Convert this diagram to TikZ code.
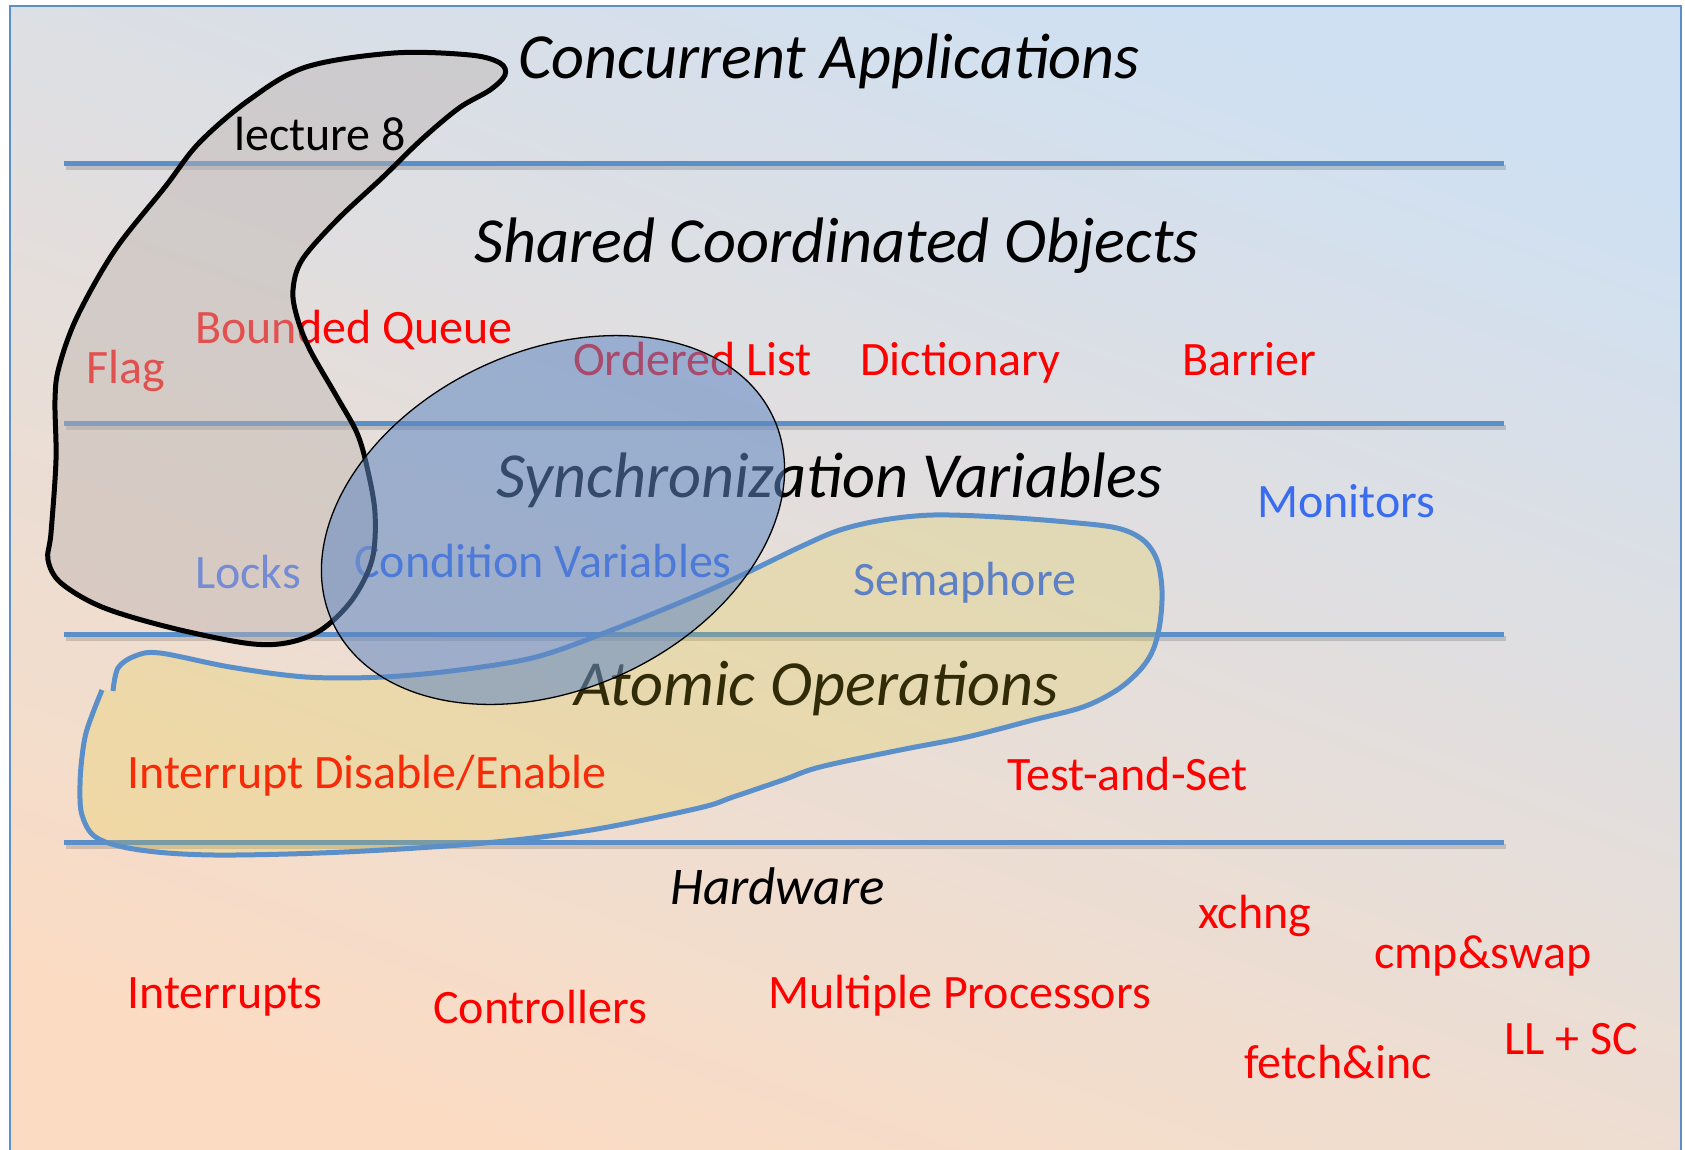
\documentclass[tikz,border=0pt]{standalone}
\usepackage{fontspec}
\setmainfont{Carlito}
\definecolor{linecol}{RGB}{91,143,201}
\definecolor{redtxt}{RGB}{255,0,0}
\definecolor{bluetxt}{RGB}{58,108,240}
\definecolor{bgtop}{RGB}{207,224,242}
\definecolor{bgbot}{RGB}{251,220,195}
\definecolor{grayfill}{RGB}{190,180,176}
\definecolor{ellfill}{RGB}{95,135,195}
\definecolor{yelfill}{RGB}{225,200,40}
\begin{document}
\begin{tikzpicture}[x=1pt,y=-1pt,
  hdr/.style={anchor=base west, inner sep=0pt, font=\fontsize{64.3}{70}\selectfont\itshape},
  lbl/.style={anchor=base west, inner sep=0pt, font=\fontsize{48}{56}\selectfont},
  rlbl/.style={lbl, text=redtxt},
  blbl/.style={lbl, text=bluetxt},
  layerline/.style={line width=5pt, draw=linecol},
  layershadow/.style={line width=5pt, draw=black, draw opacity=0.15},
]
\useasboundingbox (0,0) rectangle (1685,1149);
\fill[white] (0,0) rectangle (1685,1149);
\shade[top color=bgtop, bottom color=bgbot, shading angle=-20] (10,6) rectangle (1681,1160);
\draw[linecol, line width=1.5pt] (10,1160) -- (10,6) -- (1681,6) -- (1681,1160);

% layer lines
\foreach \yy in {163,423,634,842}{
  \coordinate (la\yy) at (64,\yy);
  \coordinate (lb\yy) at (1504,\yy);
  \draw[layershadow] ([shift={(2,4)}]la\yy) -- ([shift={(2,4)}]lb\yy);
  \draw[layerline] (la\yy) -- (lb\yy);
}

% headers
\node[hdr] (concur) at (518,78) {Concurrent Applications};
\node[hdr] (shared) at (474,262) {Shared Coordinated Objects};
\node[hdr] (sync) at (496,497) {Synchronization Variables};
\node[hdr] (atomic) at (574,705) {Atomic Operations};
\node[hdr, font=\fontsize{53}{60}\selectfont\itshape] (hw) at (670,904) {Hardware};

% labels
\node[rlbl] (flag) at (86,383) {Flag};
\node[rlbl] (bq) at (195,343) {Bounded Queue};
\node[rlbl] (ol) at (573,375) {Ordered List};
\node[rlbl] (dict) at (860,375) {Dictionary};
\node[rlbl] (barrier) at (1182,375) {Barrier};
\node[blbl] (mon) at (1257,517) {Monitors};
\node[blbl] (locks) at (195,588) {Locks};
\node[blbl] (cv) at (354,577) {Condition Variables};
\node[blbl] (sem) at (853,595) {Semaphore};
\node[rlbl] (ide) at (127,788) {Interrupt Disable/Enable};
\node[rlbl] (tas) at (1007,790) {Test-and-Set};
\node[rlbl] (intr) at (127,1008) {Interrupts};
\node[rlbl] (ctrl) at (433,1023) {Controllers};
\node[rlbl] (mp) at (768,1008) {Multiple Processors};
\node[rlbl] (xch) at (1198,928) {xchng};
\node[rlbl] (cas) at (1374,968) {cmp\&swap};
\node[rlbl] (fai) at (1244,1078) {fetch\&inc};
\node[rlbl] (llsc) at (1504,1054) {LL + SC};

% gray blob (lecture 8)
\draw[line width=5pt, fill=grayfill, fill opacity=0.45]
  plot[smooth cycle, tension=0.55] coordinates {
  (394,53) (470,55) (500,63) (505,75) (490,90) (459,108) (421,140) (383,177)
  (337,220) (302,260) (293,290) (297,317) (310,350) (337,397) (357,433)
  (367,467) (375,513) (372,560) (352,600) (321,630) (286,643) (245,643)
  (168,627) (102,607) (61,583) (48,560) (51,533) (56,460) (55,400) (59,367)
  (77,317) (115,250) (165,187) (199,143) (249,100) (306,67)};

% yellow blob
\fill[yelfill, fill opacity=0.22]
  plot[smooth cycle, tension=0.55] coordinates {
  (113,691) (118,668) (135,656) (160,653) (230,667) (306,677) (383,677)
  (459,670) (536,657) (612,630) (714,588) (800,547) (840,530) (883,520)
  (933,515) (1000,517) (1067,522) (1117,528) (1143,540) (1157,560) (1162,590)
  (1160,623) (1153,650) (1140,670) (1117,690) (1083,707) (1033,720) (967,737)
  (900,750) (820,767) (783,780) (733,797) (699,808) (591,830) (484,843)
  (344,852) (215,855) (140,850) (97,838) (82,815) (80,785) (82,757) (86,733)
  (94,710) (102,690)};
\draw[linecol, line width=5pt]
  plot[smooth, tension=0.55] coordinates {
  (113,691) (118,668) (135,656) (160,653) (230,667) (306,677) (383,677)
  (459,670) (536,657) (612,630) (714,588) (800,547) (840,530) (883,520)
  (933,515) (1000,517) (1067,522) (1117,528) (1143,540) (1157,560) (1162,590)
  (1160,623) (1153,650) (1140,670) (1117,690) (1083,707) (1033,720) (967,737)
  (900,750) (820,767) (783,780) (733,797) (699,808) (591,830) (484,843)
  (344,852) (215,855) (140,850) (97,838) (82,815) (80,785) (82,757) (86,733)
  (94,710) (102,690)};

% blue ellipse
\draw[line width=1.3pt, fill=ellfill, fill opacity=0.55, rotate around={25:(553,520)}]
  (553,520) ellipse [x radius=243, y radius=169];

\node[lbl, text=black] (lect) at (234,150) {lecture 8};
\end{tikzpicture}
\end{document}
